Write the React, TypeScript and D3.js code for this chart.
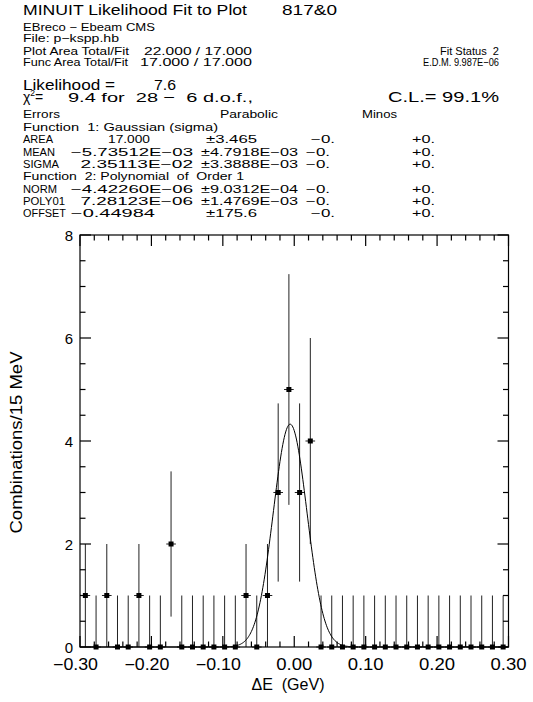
import React from 'react';
import * as d3 from 'd3';

// histogram: 40 bins of 15 MeV from -0.30 to 0.30 GeV
const BIN_LO = -0.3;
const BIN_W = 0.015;
const counts = [1, 0, 1, 0, 0, 1, 0, 0, 2, 0, 0, 0, 0, 0, 0, 1, 0, 1, 3, 5, 3, 4,
  0, 0, 0, 0, 0, 0, 0, 0, 0, 0, 0, 0, 0, 0, 0, 0, 0, 0];
const errors = [1, 1, 1, 1, 1, 1, 1, 1, 1.41, 1, 1, 1, 1, 1, 1, 1, 1, 1, 1.73, 2.24, 1.73, 2,
  1, 1, 1, 1, 1, 1, 1, 1, 1, 1, 1, 1, 1, 1, 1, 1, 1, 1];

// fit parameters as printed
const AREA = 17.0;
const MEAN = -5.73512e-3;
const SIGMA = 2.35113e-2;
const NORM = -4.4226e-6;
const POLY01 = 7.28123e-6;

const xTickValues = [-0.3, -0.2, -0.1, 0, 0.1, 0.2, 0.3];
const xTickLabels = ['\u22120.30', '\u22120.20', '\u22120.10', '0.00', '0.10', '0.20', '0.30'];
const yTickValues = [0, 2, 4, 6, 8];
const yTickLabels = ['0', '2', '4', '6', '8'];

const paramNames = ['AREA', 'MEAN', 'SIGMA', 'NORM', 'POLY01', 'OFFSET'];
const paramValues = ['17.000', '\u22125.73512E\u221203', '2.35113E\u221202', '\u22124.42260E\u221206', '7.28123E\u221206', '\u22120.44984'];
const paramErrors = ['\u00b13.465', '\u00b14.7918E\u221203', '\u00b13.3888E\u221203', '\u00b19.0312E\u221204', '\u00b11.4769E\u221203', '\u00b1175.6'];
const minosNeg = ['\u22120.', '\u22120.', '\u22120.', '\u22120.', '\u22120.', '\u22120.'];
const minosPos = ['+0.', '+0.', '+0.', '+0.', '+0.', '+0.'];

const FONT = "'Liberation Sans', Arial, sans-serif";

const Txt = ({ x, y, w, fs, anchor = 'start', children }: any) => (
  <text x={x} y={y} fontSize={fs} textAnchor={anchor} style={{ whiteSpace: 'pre' }}
    textLength={w} lengthAdjust="spacingAndGlyphs">{children}</text>
);

export default function App() {
  const L = 80, R = 508.5, T = 235, B = 647;
  const x = d3.scaleLinear().domain([-0.3, 0.3]).range([L, R]);
  const y = d3.scaleLinear().domain([0, 8]).range([B, T]);

  const xMinor = d3.range(-30, 31, 2).map(v => v / 100);
  const yMinor = d3.range(0, 8.01, 0.5);

  const fit = (e: number) =>
    (AREA * BIN_W) / (Math.sqrt(2 * Math.PI) * SIGMA) *
      Math.exp(-((e - MEAN) ** 2) / (2 * SIGMA * SIGMA)) + NORM + POLY01 * e;
  const curve = d3.line<number>().x(d => x(d)).y(d => y(Math.max(0, fit(d))));
  const curveX = d3.range(-0.3, 0.3005, 0.001);

  const rowY = [143, 155.5, 168, 192.5, 205, 217];
  const nameW = [30, 32, 36, 34, 42, 43];
  const valX = [108, 71, 80.5, 71, 80.5, 71];
  const valW = [42, 122, 112.5, 122, 112.5, 84];
  const errX = [206, 201, 201, 201, 201, 206];
  const errW = [51, 97, 97, 97, 97, 51];
  const negX = [311, 306, 306, 306, 306, 311];

  return (
    <svg width={533} height={702} style={{ position: 'absolute', left: 0, top: 0, background: '#fff' }}
      fontFamily={FONT}>
      <rect width={533} height={702} fill="#fff" />
      {/* header */}
      <g fill="#000">
        <Txt x={23} y={15} w={224} fs={14}>MINUIT Likelihood Fit to Plot</Txt>
        <Txt x={282} y={15} w={55} fs={14}>817&amp;0</Txt>
        <Txt x={23} y={30.5} w={132} fs={11}>EBreco {'\u2212'} Ebeam CMS</Txt>
        <Txt x={23} y={42} w={96} fs={11}>File: p{'\u2212'}kspp.hb</Txt>
        <Txt x={23} y={55} w={106} fs={11}>Plot Area Total/Fit</Txt>
        <Txt x={144} y={55} w={108} fs={11}>22.000 / 17.000</Txt>
        <Txt x={23} y={65.5} w={105} fs={11}>Func Area Total/Fit</Txt>
        <Txt x={140} y={65.5} w={112} fs={11}>17.000 / 17.000</Txt>
        <Txt x={499} y={55} w={59} fs={11} anchor="end">Fit Status  2</Txt>
        <Txt x={499} y={65.5} w={76} fs={11} anchor="end">E.D.M. 9.987E{'\u2212'}06</Txt>
        <Txt x={23} y={90} w={92} fs={15}>Likelihood =</Txt>
        <Txt x={154} y={90} w={22} fs={15}>7.6</Txt>
        <text x={23} y={102} fontSize={14}>{'\u03c7'}<tspan dy={-6} fontSize={8.5}>2</tspan><tspan dy={6}>=</tspan></text>
        <Txt x={68} y={102} w={185} fs={13.5}>9.4 for  28 {'\u2212'}  6 d.o.f.,</Txt>
        <Txt x={388} y={102} w={111} fs={14}>C.L.= 99.1%</Txt>
        <Txt x={23} y={118} w={37} fs={10}>Errors</Txt>
        <Txt x={220} y={118} w={58} fs={10}>Parabolic</Txt>
        <Txt x={362} y={118} w={35} fs={10}>Minos</Txt>
        <Txt x={23} y={131} w={195} fs={10}>Function  1: Gaussian (sigma)</Txt>
        <Txt x={23} y={180} w={221} fs={10}>Function  2: Polynomial  of  Order 1</Txt>
        {paramNames.map((n, i) => (
          <g key={n}>
            <Txt x={23} y={rowY[i]} w={nameW[i]} fs={10}>{n}</Txt>
            <Txt x={valX[i]} y={rowY[i]} w={valW[i]} fs={10}>{paramValues[i]}</Txt>
            <Txt x={errX[i]} y={rowY[i]} w={errW[i]} fs={10}>{paramErrors[i]}</Txt>
            <Txt x={negX[i]} y={rowY[i]} w={24} fs={10}>{minosNeg[i]}</Txt>
            <Txt x={412} y={rowY[i]} w={23} fs={10}>{minosPos[i]}</Txt>
          </g>
        ))}
      </g>

      {/* error bars and markers */}
      <g stroke="#222" strokeWidth={1}>
        {counts.map((c, i) => {
          const xc = x(BIN_LO + (i + 0.5) * BIN_W);
          const lo = Math.max(0, c - errors[i]);
          return (
            <g key={i}>
              <line x1={xc} x2={xc} y1={y(lo)} y2={y(c + errors[i])} />
              <line x1={x(BIN_LO + (i + 0.05) * BIN_W)} x2={x(BIN_LO + (i + 0.95) * BIN_W)} y1={y(c)} y2={y(c)} />
            </g>
          );
        })}
      </g>
      <g fill="#000">
        {counts.map((c, i) => (
          <rect key={i} x={x(BIN_LO + (i + 0.5) * BIN_W) - 2.5} y={y(c) - 2.5} width={5} height={5} />
        ))}
      </g>

      {/* fit curve */}
      <path d={curve(curveX) || ''} fill="none" stroke="#000" strokeWidth={1} />

      {/* frame and ticks */}
      <g stroke="#000" strokeWidth={1.2} fill="none">
        <rect x={L} y={T} width={R - L} height={B - T} />
        {xMinor.map(v => {
          const len = xTickValues.some(t => Math.abs(t - v) < 1e-6) ? 11 : 5.5;
          return (
            <g key={v}>
              <line x1={x(v)} x2={x(v)} y1={B} y2={B - len} />
              <line x1={x(v)} x2={x(v)} y1={T} y2={T + len} />
            </g>
          );
        })}
        {yMinor.map(v => {
          const len = yTickValues.includes(v) ? 11 : 5.5;
          return (
            <g key={v}>
              <line x1={L} x2={L + len} y1={y(v)} y2={y(v)} />
              <line x1={R} x2={R - len} y1={y(v)} y2={y(v)} />
            </g>
          );
        })}
      </g>

      {/* tick labels */}
      <g fill="#000">
        {xTickValues.map((v, i) => {
          const neg = xTickLabels[i].startsWith('\u2212');
          return (
            <Txt key={v} x={x(v) + 18} y={670} w={neg ? 45 : 36} fs={16} anchor="end">{xTickLabels[i]}</Txt>
          );
        })}
        {yTickValues.map((v, i) => (
          <text key={v} x={L - 7} y={y(v) + 5.5} fontSize={15} textAnchor="end">{yTickLabels[i]}</text>
        ))}
        <Txt x={288} y={690} w={73} fs={16} anchor="middle">{'\u0394'}E  (GeV)</Txt>
        <g transform="translate(21.5,442.5) rotate(-90)">
          <Txt x={0} y={0} w={182} fs={16} anchor="middle">Combinations/15 MeV</Txt>
        </g>
      </g>
    </svg>
  );
}
